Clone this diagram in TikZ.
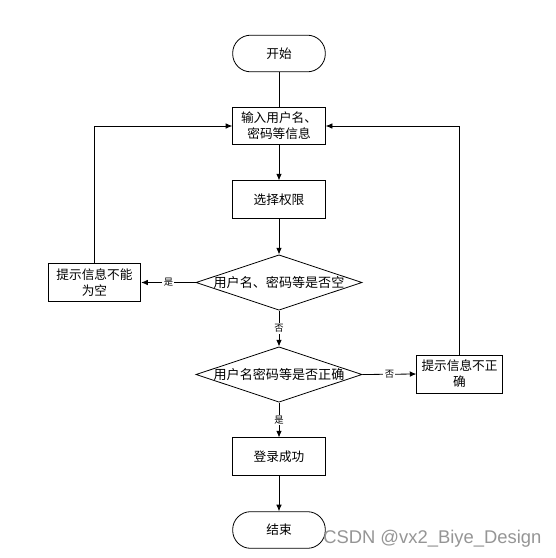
\documentclass[tikz,border=0pt]{standalone}
\usepackage{fontspec}
\setmainfont{Noto Sans CJK SC}
\newfontfamily\markfont{Liberation Sans}
\usepackage{tikz}
\usetikzlibrary{arrows.meta,shapes.geometric}
\definecolor{ink}{HTML}{000000}
\definecolor{markgray}{HTML}{959595}
\tikzset{
  >={Latex[length=5pt,width=4.2pt]},
  terminal/.style={draw=ink,rounded corners=13.5pt,minimum width=69.5pt,minimum height=27.5pt,inner sep=0pt,line width=.6pt,font=\fontsize{9.5}{12}\selectfont},
  procbox/.style={draw=ink,minimum width=69.5pt,minimum height=28pt,inner sep=1pt,align=center,line width=.6pt,font=\fontsize{9.5}{12}\selectfont},
  decision/.style={diamond,draw=ink,minimum width=124.5pt,minimum height=41.5pt,inner sep=0pt,line width=.6pt,font=\fontsize{9.8}{12}\selectfont},
  flow/.style={->,line width=.6pt,color=ink},
  link/.style={line width=.6pt,color=ink},
  tag/.style={fill=white,inner sep=1pt,font=\fontsize{7}{8}\selectfont},
}

\begin{document}
\begin{tikzpicture}[x=.75pt,y=-.75pt]
  \useasboundingbox (0,0) rectangle (556,558);
  \node[terminal] (start) at (279,53.5) {开始};
  \node[procbox] (input) at (279,126) {输入用户名、\\密码等信息};
  \node[procbox] (perm) at (279,199.5) {选择权限};
  \node[decision] (empty) at (279,282.5) {\makebox[0pt]{用户名、密码等是否空}};
  \node[procbox] (warnempty) at (94.5,282.5) {提示信息不能\\为空};
  \node[decision] (check) at (279,374.5) {\makebox[0pt]{用户名密码等是否正确}};
  \node[procbox,minimum width=64pt,minimum height=28.5pt] (warnwrong) at (459.5,374) {提示信息不正\\确};
  \node[procbox] (ok) at (279,456.5) {登录成功};
  \node[terminal] (stop) at (279,530) {结束};
  \draw[link] (start) -- (input);
  \draw[flow] (input) -- (perm);
  \draw[flow] (perm) -- (empty);
  \draw[flow] (empty.west) -- node[tag] {是} (warnempty.east);
  \draw[flow] (empty) -- node[tag] {否} (check);
  \draw[flow] (check.east) -- node[tag] {否} (warnwrong.west);
  \draw[flow] (check) -- node[tag] {是} (ok);
  \draw[flow] (ok) -- (stop);
  \draw[flow] (warnempty.north) |- (input.west);
  \draw[flow] (warnwrong.north) |- (input.east);
  \node[anchor=west,inner sep=0pt,text=markgray,font=\markfont\fontsize{13.8}{16}\selectfont] (mark) at (323,538.5) {CSDN @vx2\_Biye\_Design};
\end{tikzpicture}
\end{document}
